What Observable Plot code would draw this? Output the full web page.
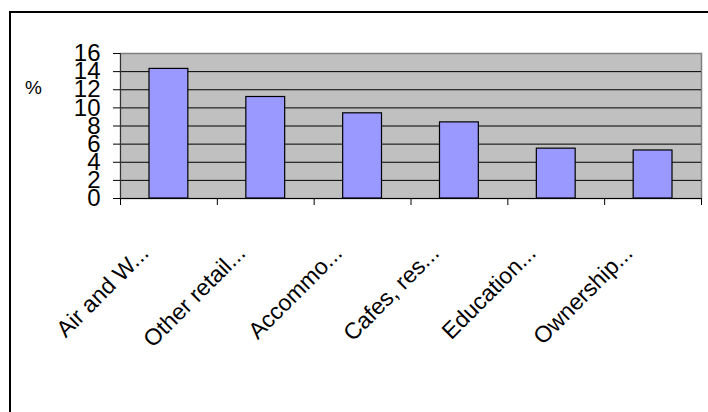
<!DOCTYPE html>
<html>
<head>
<meta charset="utf-8">
<script src="https://cdn.jsdelivr.net/npm/d3@7"></script>
<script src="https://cdn.jsdelivr.net/npm/@observablehq/plot@0.6"></script>
<style>
  html, body { margin: 0; padding: 0; background: #fff; overflow: hidden; }
  #wrap { position: relative; width: 708px; height: 412px; }
  #border { position: absolute; left: 9px; top: 11px; width: 740px; height: 440px; border: 2px solid #000; box-sizing: border-box; pointer-events: none; }
  #chart { position: absolute; left: 0; top: 0; }
</style>
</head>
<body>
<div id="wrap"><div id="chart"></div><div id="border"></div></div>
<script>
const categories = ["Air and W...", "Other retail...", "Accommo...", "Cafes, res...", "Education...", "Ownership..."];
const values = [14.3, 11.2, 9.4, 8.4, 5.5, 5.3];
const yTicks = [0, 2, 4, 6, 8, 10, 12, 14, 16];
const yLabel = "%";

const data = categories.map((c, i) => ({cat: c, i, value: values[i]}));
const font = "Arial, 'Liberation Sans', sans-serif";

const chart = Plot.plot({
  width: 708,
  height: 412,
  marginLeft: 120,
  marginRight: 7,
  marginTop: 53,
  marginBottom: 214,
  style: {fontFamily: font, background: "transparent", color: "#000"},
  x: {type: "linear", domain: [0, categories.length]},
  y: {domain: [0, 16]},
  marks: [
    Plot.frame({fill: "#c0c0c0", stroke: "#808080", strokeWidth: 1.5}),
    Plot.ruleY(yTicks.filter(t => t > 0 && t < 16), {stroke: "#000", strokeWidth: 1}),
    Plot.rectY(data, {x1: d => d.i, x2: d => d.i + 1, y: "value", insetLeft: 29, insetRight: 29, fill: "#9999ff", stroke: "#000", strokeWidth: 1.2}),
    Plot.ruleY([0], {stroke: "#000", strokeWidth: 1}),
    Plot.ruleX([0], {stroke: "#333", strokeWidth: 1}),
    Plot.axisY({ticks: yTicks, tickSize: 7, tickPadding: 13, fontSize: 24, label: null, stroke: "#000"}),
    Plot.axisX({ticks: d3.range(0, categories.length + 1), tickSize: 7, tickFormat: () => "", label: null}),
    Plot.axisX({ticks: d3.range(categories.length).map(i => i + 0.5), tickSize: 0, tickPadding: 56,
      tickFormat: t => categories[Math.floor(t)], tickRotate: -45, textAnchor: "end", lineAnchor: "bottom",
      dx: -19, fontSize: 23, label: null}),
    Plot.text([yLabel], {frameAnchor: "top-left", dx: -87, dy: 34, fontSize: 19, textAnchor: "middle", lineAnchor: "middle"})
  ]
});
document.getElementById("chart").appendChild(chart);
</script>
</body>
</html>
